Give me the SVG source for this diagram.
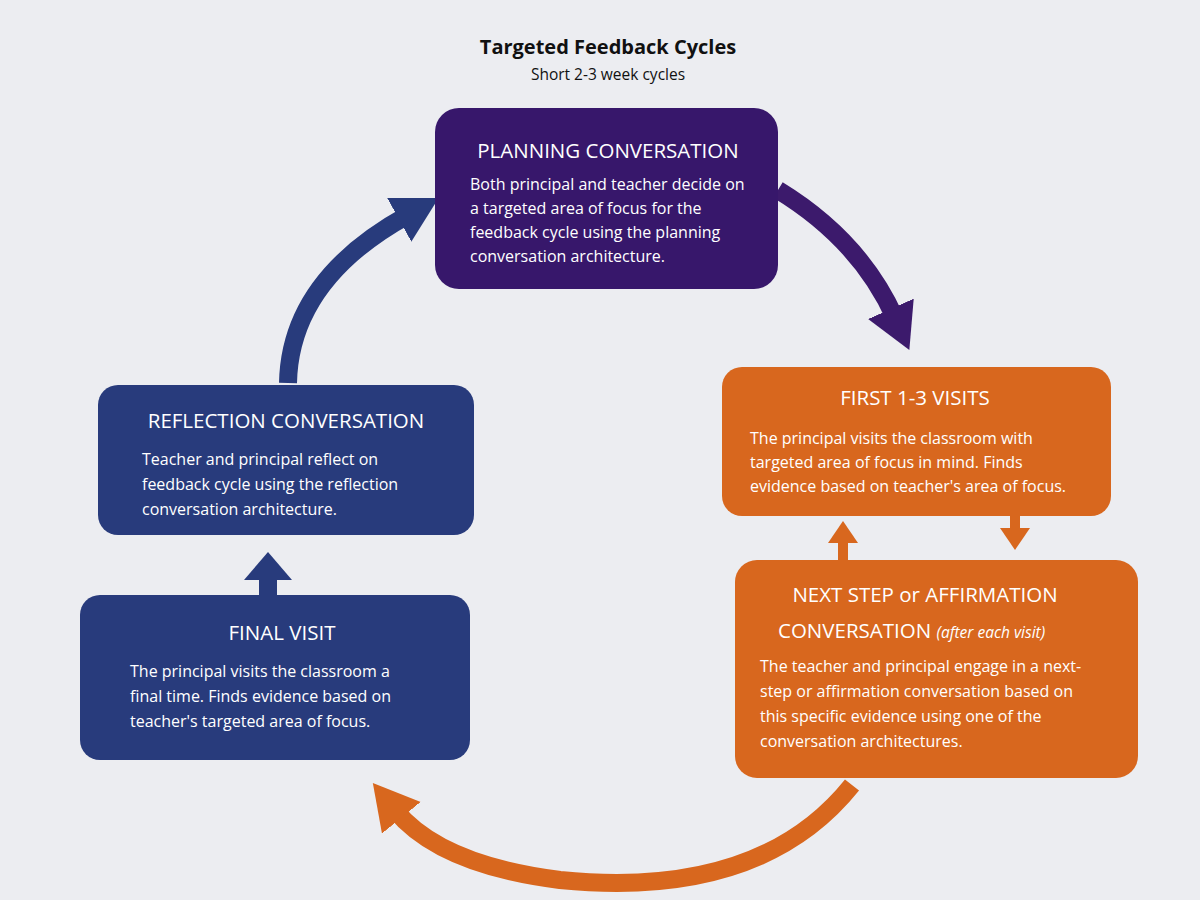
<svg xmlns="http://www.w3.org/2000/svg" width="1200" height="900" viewBox="0 0 1200 900">
<defs>
<style>
.t{font-family:"Open Sans","Liberation Sans",sans-serif;fill:#fff}
.h{font-size:20.5px;text-anchor:middle}
.b{font-size:16px}
.p{fill:#37176b}.o{fill:#d8671e}.n{fill:#283b7c}
.c{fill:none;stroke-width:18}
</style>
<marker id="mp" markerUnits="userSpaceOnUse" markerWidth="60" markerHeight="60" refX="10" refY="25" orient="auto"><path d="M0,0 L45,25 L0,50 Z" fill="#3c1a6c"/></marker>
<marker id="mo" markerUnits="userSpaceOnUse" markerWidth="60" markerHeight="60" refX="10" refY="25" orient="auto"><path d="M0,0 L45,25 L0,50 Z" fill="#d8671e"/></marker>
<marker id="mn" markerUnits="userSpaceOnUse" markerWidth="60" markerHeight="60" refX="10" refY="25" orient="auto"><path d="M0,0 L45,25 L0,50 Z" fill="#283b7c"/></marker>
<marker id="ms" markerUnits="userSpaceOnUse" markerWidth="40" markerHeight="40" refX="5" refY="15" orient="auto"><path d="M0,0 L22,15 L0,30 Z" fill="#d8671e"/></marker>
<marker id="mns" markerUnits="userSpaceOnUse" markerWidth="50" markerHeight="60" refX="5" refY="24" orient="auto"><path d="M0,0 L28,24 L0,48 Z" fill="#283b7c"/></marker>
</defs>
<rect width="1200" height="900" fill="#ecedf1"/>
<text x="608" y="54" font-family="'Open Sans','Liberation Sans',sans-serif" font-size="20" font-weight="bold" text-anchor="middle" fill="#111">Targeted Feedback Cycles</text>
<text x="608" y="80" font-family="'Open Sans','Liberation Sans',sans-serif" font-size="15.5" text-anchor="middle" fill="#111">Short 2-3 week cycles</text>
<g id="connectors">
<path class="c" stroke="#3c1a6c" d="M778,190 Q860,240 895,318" marker-end="url(#mp)"/>
<path class="c" stroke="#d8671e" d="M852,785 Q760,900 560,880 Q440,865 395,810" marker-end="url(#mo)"/>
<path class="c" stroke="#283b7c" d="M268,596 L268,575" marker-end="url(#mns)"/>
<path class="c" stroke="#283b7c" d="M288,383 Q290,280 408,215" marker-end="url(#mn)"/>
<path stroke="#d8671e" stroke-width="10" fill="none" d="M843,560 L843,538" marker-end="url(#ms)"/>
<path stroke="#d8671e" stroke-width="10" fill="none" d="M1015,515 L1015,533" marker-end="url(#ms)"/>
</g>
<g id="planning">
<rect class="p" x="435" y="108" width="343" height="181" rx="24"/>
<text class="t h" x="608" y="158">PLANNING CONVERSATION</text>
<text class="t b" x="470" y="190">Both principal and teacher decide on</text>
<text class="t b" x="470" y="214">a targeted area of focus for the</text>
<text class="t b" x="470" y="238">feedback cycle using the planning</text>
<text class="t b" x="470" y="262">conversation architecture.</text>
</g>
<g id="first">
<rect class="o" x="722" y="367" width="389" height="149" rx="20"/>
<text class="t h" x="915" y="405">FIRST 1-3 VISITS</text>
<text class="t b" x="750" y="444">The principal visits the classroom with</text>
<text class="t b" x="750" y="468">targeted area of focus in mind.  Finds</text>
<text class="t b" x="750" y="492">evidence based on teacher's area of focus.</text>
</g>
<g id="nextstep">
<rect class="o" x="735" y="560" width="403" height="218" rx="22"/>
<text class="t h" x="925" y="602">NEXT STEP or AFFIRMATION</text>
<text class="t" x="778" y="638" font-size="20.5">CONVERSATION <tspan font-size="15.5" font-style="italic">(after each visit)</tspan></text>
<text class="t b" x="760" y="672">The teacher and principal engage in a next-</text>
<text class="t b" x="760" y="697">step or affirmation conversation based on</text>
<text class="t b" x="760" y="722">this specific evidence using one of the</text>
<text class="t b" x="760" y="747">conversation architectures.</text>
</g>
<g id="reflection">
<rect class="n" x="98" y="385" width="376" height="150" rx="20"/>
<text class="t h" x="286" y="428">REFLECTION CONVERSATION</text>
<text class="t b" x="142" y="465">Teacher and principal reflect on</text>
<text class="t b" x="142" y="490">feedback cycle using the reflection</text>
<text class="t b" x="142" y="515">conversation architecture.</text>
</g>
<g id="final">
<rect class="n" x="80" y="595" width="390" height="165" rx="20"/>
<text class="t h" x="282" y="640">FINAL VISIT</text>
<text class="t b" x="130" y="677">The principal visits the classroom a</text>
<text class="t b" x="130" y="702">final time. Finds evidence based on</text>
<text class="t b" x="130" y="727">teacher's targeted area of focus.</text>
</g>
</svg>
